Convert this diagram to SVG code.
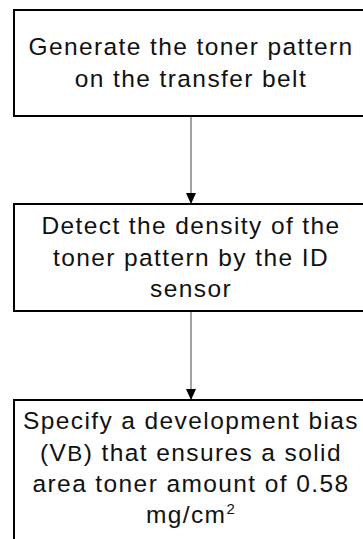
<svg xmlns="http://www.w3.org/2000/svg" width="363" height="539" viewBox="0 0 363 539">
<defs>
<style>
.box{fill:#fff;stroke:#000;stroke-width:2}
.t{font-family:"Liberation Sans",Arial,sans-serif;font-size:24.5px;letter-spacing:1.4px;fill:#111;text-anchor:middle}
.ln{stroke:#666;stroke-width:1.2;fill:none}
</style>
<marker id="ah" viewBox="0 0 11 10" refX="11" refY="5" markerWidth="11" markerHeight="10" markerUnits="userSpaceOnUse" orient="auto">
<path d="M0,0 L11,5 L0,10 Z" fill="#000"/>
</marker>
</defs>
<rect width="363" height="539" fill="#fff"/>
<g id="connectors">
<line class="ln" x1="191" y1="116" x2="191" y2="204" marker-end="url(#ah)"/>
<line class="ln" x1="191" y1="312" x2="191" y2="400" marker-end="url(#ah)"/>
</g>
<g id="node1">
<rect class="box" x="14" y="10" width="354" height="106"/>
<text class="t" x="191" y="55">Generate the toner pattern</text>
<text class="t" x="191" y="87">on the transfer belt</text>
</g>
<g id="node2">
<rect class="box" x="14" y="204" width="354" height="107"/>
<text class="t" x="191" y="234">Detect the density of the</text>
<text class="t" x="191" y="266">toner pattern by the ID</text>
<text class="t" x="191" y="297">sensor</text>
</g>
<g id="node3">
<rect class="box" x="14" y="400" width="354" height="150"/>
<text class="t" x="191" y="429">Specify a development bias</text>
<text class="t" x="191" y="461">(V<tspan font-size="22.5">B</tspan>) that ensures a solid</text>
<text class="t" x="191" y="492">area toner amount of 0.58</text>
<text class="t" x="191" y="523">mg/cm<tspan font-size="15" dy="-9">2</tspan></text>
</g>
</svg>
